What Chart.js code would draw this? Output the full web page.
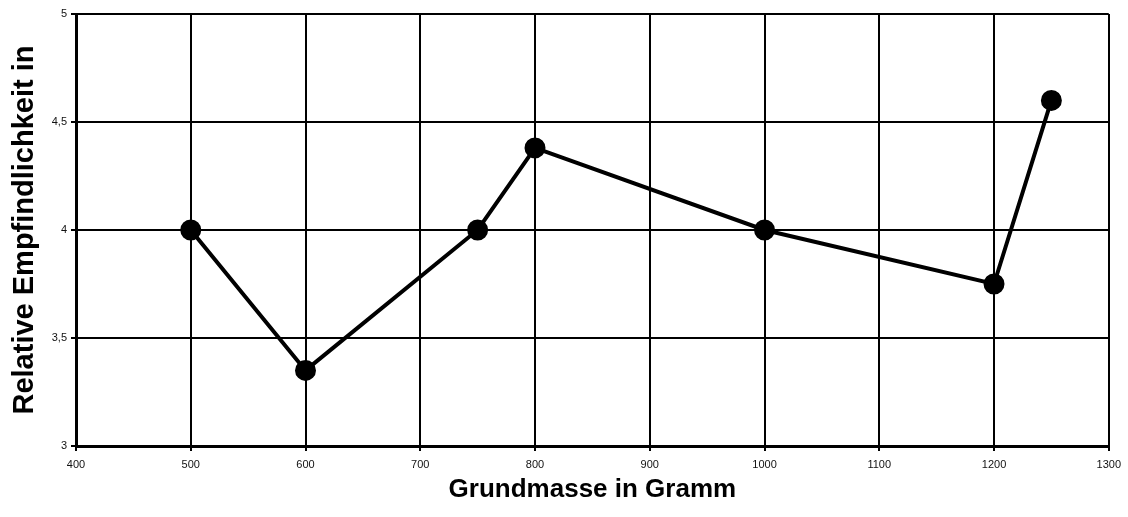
<!DOCTYPE html>
<html>
<head>
<meta charset="utf-8">
<script src="https://cdn.jsdelivr.net/npm/chart.js@4"></script>
<style>
  html, body { margin: 0; padding: 0; background: #fff; }
  #wrap { width: 1128px; height: 517px; }
</style>
</head>
<body>
<div id="wrap"><canvas id="grafica"></canvas></div>
<script>
const grundmasse = [500, 600, 750, 800, 1000, 1200, 1250];
const empfindlichkeit = [4.0, 3.35, 4.0, 4.38, 4.0, 3.75, 4.6];
const xTicks = [400, 500, 600, 700, 800, 900, 1000, 1100, 1200, 1300];
const yTicks = [3, 3.5, 4, 4.5, 5];

const ctx = document.getElementById('grafica').getContext('2d');
new Chart(ctx, {
  type: 'scatter',
  data: {
    datasets: [{
      label: 'Relative Empfindlichkeit',
      data: grundmasse.map((x, i) => ({ x: x, y: empfindlichkeit[i] })),
      showLine: true,
      borderColor: '#000',
      backgroundColor: '#000',
      borderWidth: 4,
      pointRadius: 8.5,
      pointHoverRadius: 8.5,
      tension: 0
    }]
  },
  options: {
    responsive: true,
    maintainAspectRatio: false,
    animation: false,
    layout: { padding: { left: 0, right: 8, top: 14, bottom: 0 } },
    plugins: {
      legend: { display: false },
      tooltip: { enabled: false }
    },
    scales: {
      x: {
        type: 'linear',
        min: 400,
        max: 1300,
        afterBuildTicks: s => { s.ticks = xTicks.map(v => ({ value: v })); },
        afterFit: s => { s.height = 71; },
        ticks: {
          color: '#111',
          font: { family: 'Liberation Sans, Arial', size: 11 },
          padding: 7,
          callback: v => String(v)
        },
        grid: { color: '#000', lineWidth: 2, tickLength: 5, tickColor: '#000' },
        border: { color: '#000', width: 3 },
        title: {
          display: true,
          text: 'Grundmasse in Gramm',
          color: '#000',
          font: { family: 'Liberation Sans, Arial', size: 26, weight: 'bold' },
          padding: { top: 0, bottom: 12 }
        }
      },
      y: {
        min: 3,
        max: 5,
        afterBuildTicks: s => { s.ticks = yTicks.map(v => ({ value: v })); },
        afterFit: s => { s.width = 76; },
        ticks: {
          color: '#111',
          font: { family: 'Liberation Sans, Arial', size: 11 },
          padding: 4,
          callback: v => String(v).replace('.', ',')
        },
        grid: { color: '#000', lineWidth: 2, tickLength: 5, tickColor: '#000' },
        border: { color: '#000', width: 3 },
        title: {
          display: true,
          text: 'Relative Empfindlichkeit in',
          color: '#000',
          font: { family: 'Liberation Sans, Arial', size: 29, weight: 'bold' },
          padding: { top: 8, bottom: 0 }
        }
      }
    }
  }
});
</script>
</body>
</html>
